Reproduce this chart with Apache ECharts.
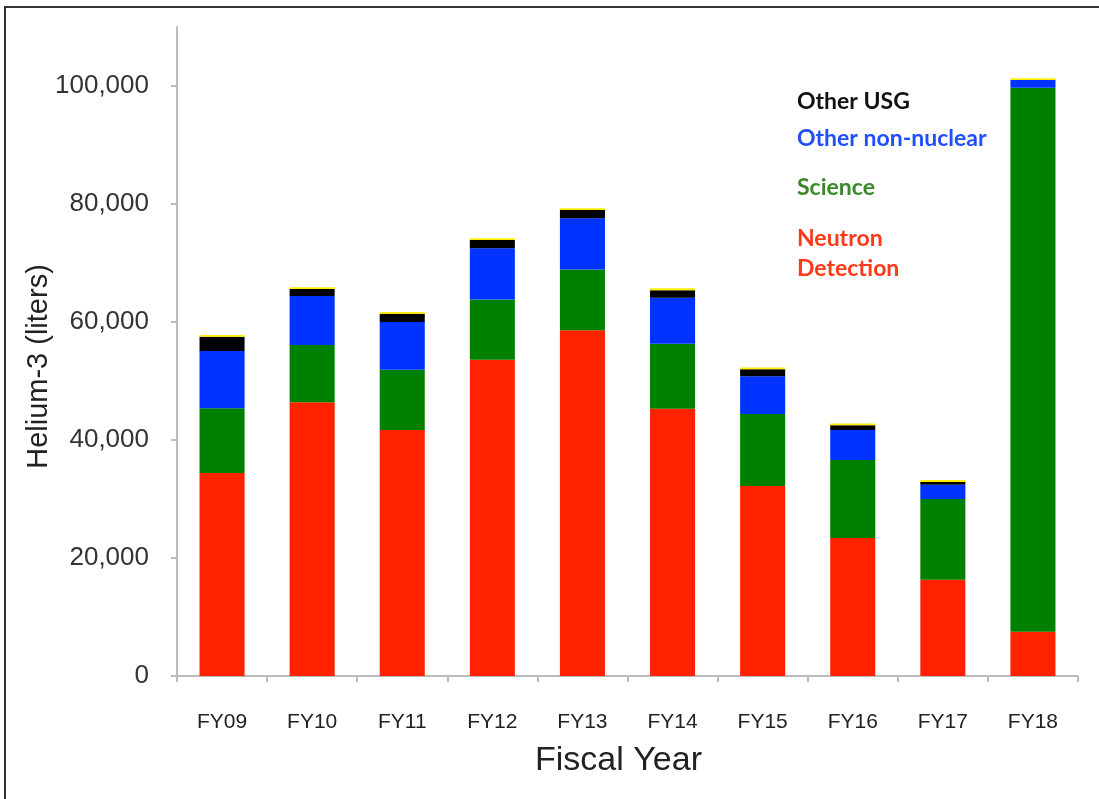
<!DOCTYPE html>
<html>
<head>
<meta charset="utf-8">
<title>Helium-3 by Fiscal Year</title>
<script src="https://cdn.jsdelivr.net/npm/echarts@6/dist/echarts.min.js"></script>
<style>
  html, body { margin: 0; padding: 0; background: #fff; }
  #chart { width: 1099px; height: 799px; }
</style>
</head>
<body>
<div id="chart"></div>
<script>
const years = ['FY09', 'FY10', 'FY11', 'FY12', 'FY13', 'FY14', 'FY15', 'FY16', 'FY17', 'FY18']
// liters (bottom to top)
const neutronDetection = [34400, 46400, 41700, 53600, 58600, 45300, 32200, 23400, 16300, 7500]
const science = [11000, 9700, 10200, 10200, 10300, 11000, 12200, 13200, 13700, 92200]
const otherNonNuclear = [9700, 8300, 8100, 8700, 8700, 7800, 6400, 5100, 2400, 1300]
const otherUSG = [2400, 1200, 1400, 1400, 1400, 1300, 1200, 800, 500, 0]
const topSliver = [300, 300, 300, 300, 300, 300, 300, 300, 300, 300]
const yTicks = [0, 20000, 40000, 60000, 80000, 100000]

const chart = echarts.init(document.getElementById('chart'))

const fmt = v => v.toLocaleString('en-US')

function bar(name, data, color) {
  return {
    name: name,
    type: 'bar',
    stack: 'he3',
    barWidth: '50%',
    data: data,
    itemStyle: {color: color},
    emphasis: {disabled: true}
  }
}

const option = {
  animation: false,
  backgroundColor: '#fff',
  grid: {
    left: 177,
    right: 21,
    top: 27,
    bottom: 123,
    outerBoundsMode: 'none'
  },
  xAxis: {
    type: 'category',
    data: years,
    name: 'Fiscal Year',
    nameLocation: 'middle',
    nameGap: 68,
    nameMoveOverlap: false,
    nameTextStyle: {
      fontFamily: 'Liberation Sans',
      fontSize: 34,
      color: '#222',
      padding: [0, 18, 0, 0]
    },
    axisLine: {lineStyle: {color: '#bbb', width: 2}},
    axisTick: {show: true, length: 6, lineStyle: {color: '#bbb', width: 2}},
    axisLabel: {
      margin: 36,
      fontFamily: 'Liberation Sans',
      fontSize: 21,
      color: '#222'
    }
  },
  yAxis: {
    type: 'value',
    min: 0,
    max: 110000,
    interval: 20000,
    name: 'Helium-3 (liters)',
    nameLocation: 'middle',
    nameRotate: 90,
    nameGap: 124,
    nameMoveOverlap: false,
    nameTextStyle: {
      fontFamily: 'Liberation Sans',
      fontSize: 29,
      color: '#222',
      padding: [0, 30, 0, 0]
    },
    splitLine: {show: false},
    axisLine: {show: true, lineStyle: {color: '#bbb', width: 2}},
    axisTick: {show: true, length: 6, customValues: yTicks, lineStyle: {color: '#bbb', width: 2}},
    axisLabel: {
      margin: 28,
      customValues: yTicks,
      formatter: fmt,
      fontFamily: 'Liberation Sans',
      fontSize: 26,
      color: '#333'
    }
  },
  series: [
    bar('Neutron Detection', neutronDetection, '#ff2200'),
    bar('Science', science, '#008000'),
    bar('Other non-nuclear', otherNonNuclear, '#0033ff'),
    bar('Other USG', otherUSG, '#000000'),
    bar('Other', topSliver, '#ffee00')
  ],
  graphic: [
    {
      type: 'rect',
      shape: {x: 5, y: 7, width: 1200, height: 900},
      style: {fill: 'none', stroke: '#333', lineWidth: 2},
      silent: true
    },
    {
      type: 'group',
      left: 797,
      top: 90,
      children: [
        {type: 'text', x: 0, y: 0, style: {text: 'Other USG', fill: '#111', font: 'bold 23px Lato'}},
        {type: 'text', x: 0, y: 37, style: {text: 'Other non-nuclear', fill: '#1f4fff', font: 'bold 23px Lato'}},
        {type: 'text', x: 0, y: 86, style: {text: 'Science', fill: '#3a8a2a', font: 'bold 23px Lato'}},
        {type: 'text', x: 0, y: 137, style: {text: 'Neutron', fill: '#ff3a1a', font: 'bold 23px Lato'}},
        {type: 'text', x: 0, y: 167, style: {text: 'Detection', fill: '#ff3a1a', font: 'bold 23px Lato'}}
      ]
    }
  ]
}

chart.setOption(option)
</script>
</body>
</html>
